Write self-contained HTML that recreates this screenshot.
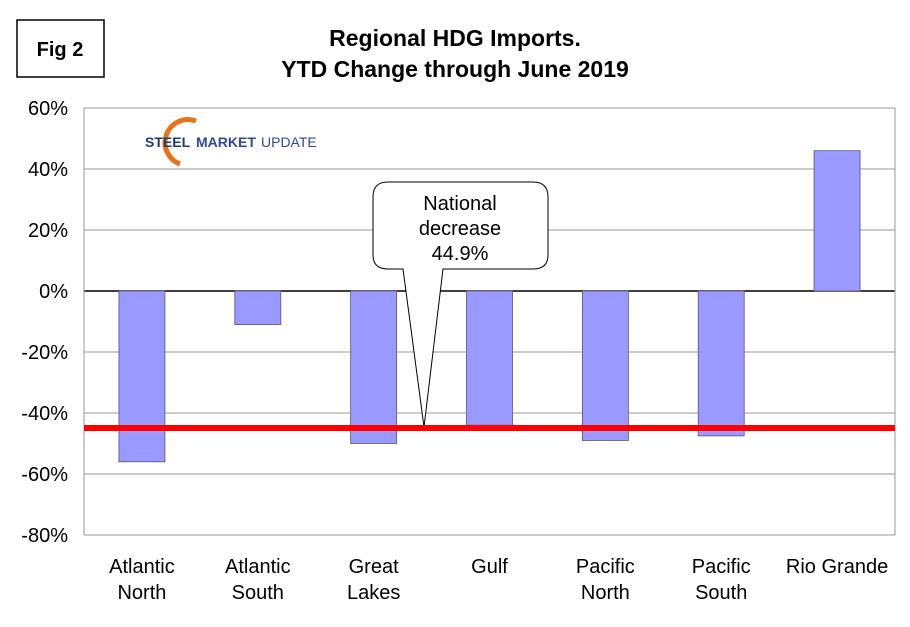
<!DOCTYPE html>
<html><head><meta charset="utf-8"><style>
body{margin:0;background:#fff;font-family:"Liberation Sans",Arial,sans-serif}
svg text{font-family:"Liberation Sans",Arial,sans-serif}
</style></head><body>
<svg id="c" width="910" height="622" xmlns="http://www.w3.org/2000/svg">
<rect x="17" y="20" width="87" height="57" fill="#fff" stroke="#000" stroke-width="1.5"/>
<text x="60" y="56" font-size="20" font-weight="bold" text-anchor="middle">Fig 2</text>
<text x="455" y="46" font-size="23" font-weight="bold" text-anchor="middle">Regional HDG Imports.</text>
<text x="455" y="77" font-size="23" font-weight="bold" text-anchor="middle">YTD Change through June 2019</text>
<g id="grid"></g><g id="bars"></g><g id="axes"></g>
<g>
<path d="M196 121 A22 22 0 1 0 180 164" fill="none" stroke="#e8731a" stroke-width="5"/>
<text x="145" y="147" font-size="14" font-weight="bold" fill="#1e3a7a">STEEL</text>
<text x="196" y="147" font-size="14" font-weight="bold" fill="#2a4a9a">MARKET</text>
<text x="261" y="147" font-size="14" fill="#2a4a9a">UPDATE</text>
</g>
<g>
<path d="M388 182 H533 Q548 182 548 197 V255 Q548 269 533 269 H443 L424 427 L403 269 H388 Q373 269 373 255 V197 Q373 182 388 182 Z" fill="#fff" stroke="#000" stroke-width="1"/>
<text x="460" y="210" font-size="20" text-anchor="middle">National</text>
<text x="460" y="235" font-size="20" text-anchor="middle">decrease</text>
<text x="460" y="260" font-size="20" text-anchor="middle">44.9%</text>
</g>
<g id="ref"></g>
</svg>
<script>
const categories=[["Atlantic","North"],["Atlantic","South"],["Great","Lakes"],["Gulf"],["Pacific","North"],["Pacific","South"],["Rio Grande"]];
const values=[-56,-11,-50,-44,-49,-47.5,46];
const ticks=[60,40,20,0,-20,-40,-60,-80];
const national=[-44.9];
const NS="http://www.w3.org/2000/svg";
const L=84,R=895,T=108,B=535;
const y=v=>T+(60-v)/140*(B-T);
const bw=(R-L)/categories.length;
const x=i=>L+bw*(i+0.5);
function mk(tag,a,p){const e=document.createElementNS(NS,tag);for(const k in a)e.setAttribute(k,a[k]);document.getElementById(p).appendChild(e);return e;}
ticks.forEach(t=>{
 const g=mk('line',{x1:L,x2:R,y1:y(t),y2:y(t),stroke:t===0?'#000':'#999','stroke-width':t===0?1.5:1},'grid');
 
 
 const tx=mk('text',{x:L-16,y:y(t)+7,'font-size':20,'text-anchor':'end'},'axes');
 tx.textContent=t+'%';
 
 
});
mk('line',{x1:L,x2:L,y1:T,y2:B,stroke:'#999'},'axes');
mk('line',{x1:R,x2:R,y1:T,y2:B,stroke:'#999'},'axes');
values.forEach((v,i)=>{
 const r=mk('rect',{x:x(i)-23,y:Math.min(y(v),y(0)),width:46,height:Math.abs(y(v)-y(0)),fill:'#9999ff',stroke:'#55557a','stroke-width':0.8},'bars');
 
 
 categories[i].forEach((s,j)=>{
  const t=mk('text',{x:x(i),y:573+j*26,'font-size':20,'text-anchor':'middle'},'axes');
  t.textContent=s;
  
  
 });
});
const rl=mk('line',{x1:L,x2:R,y1:y(national[0]),y2:y(national[0]),stroke:'#ff0000','stroke-width':6},'ref');


</script>
</body></html>
